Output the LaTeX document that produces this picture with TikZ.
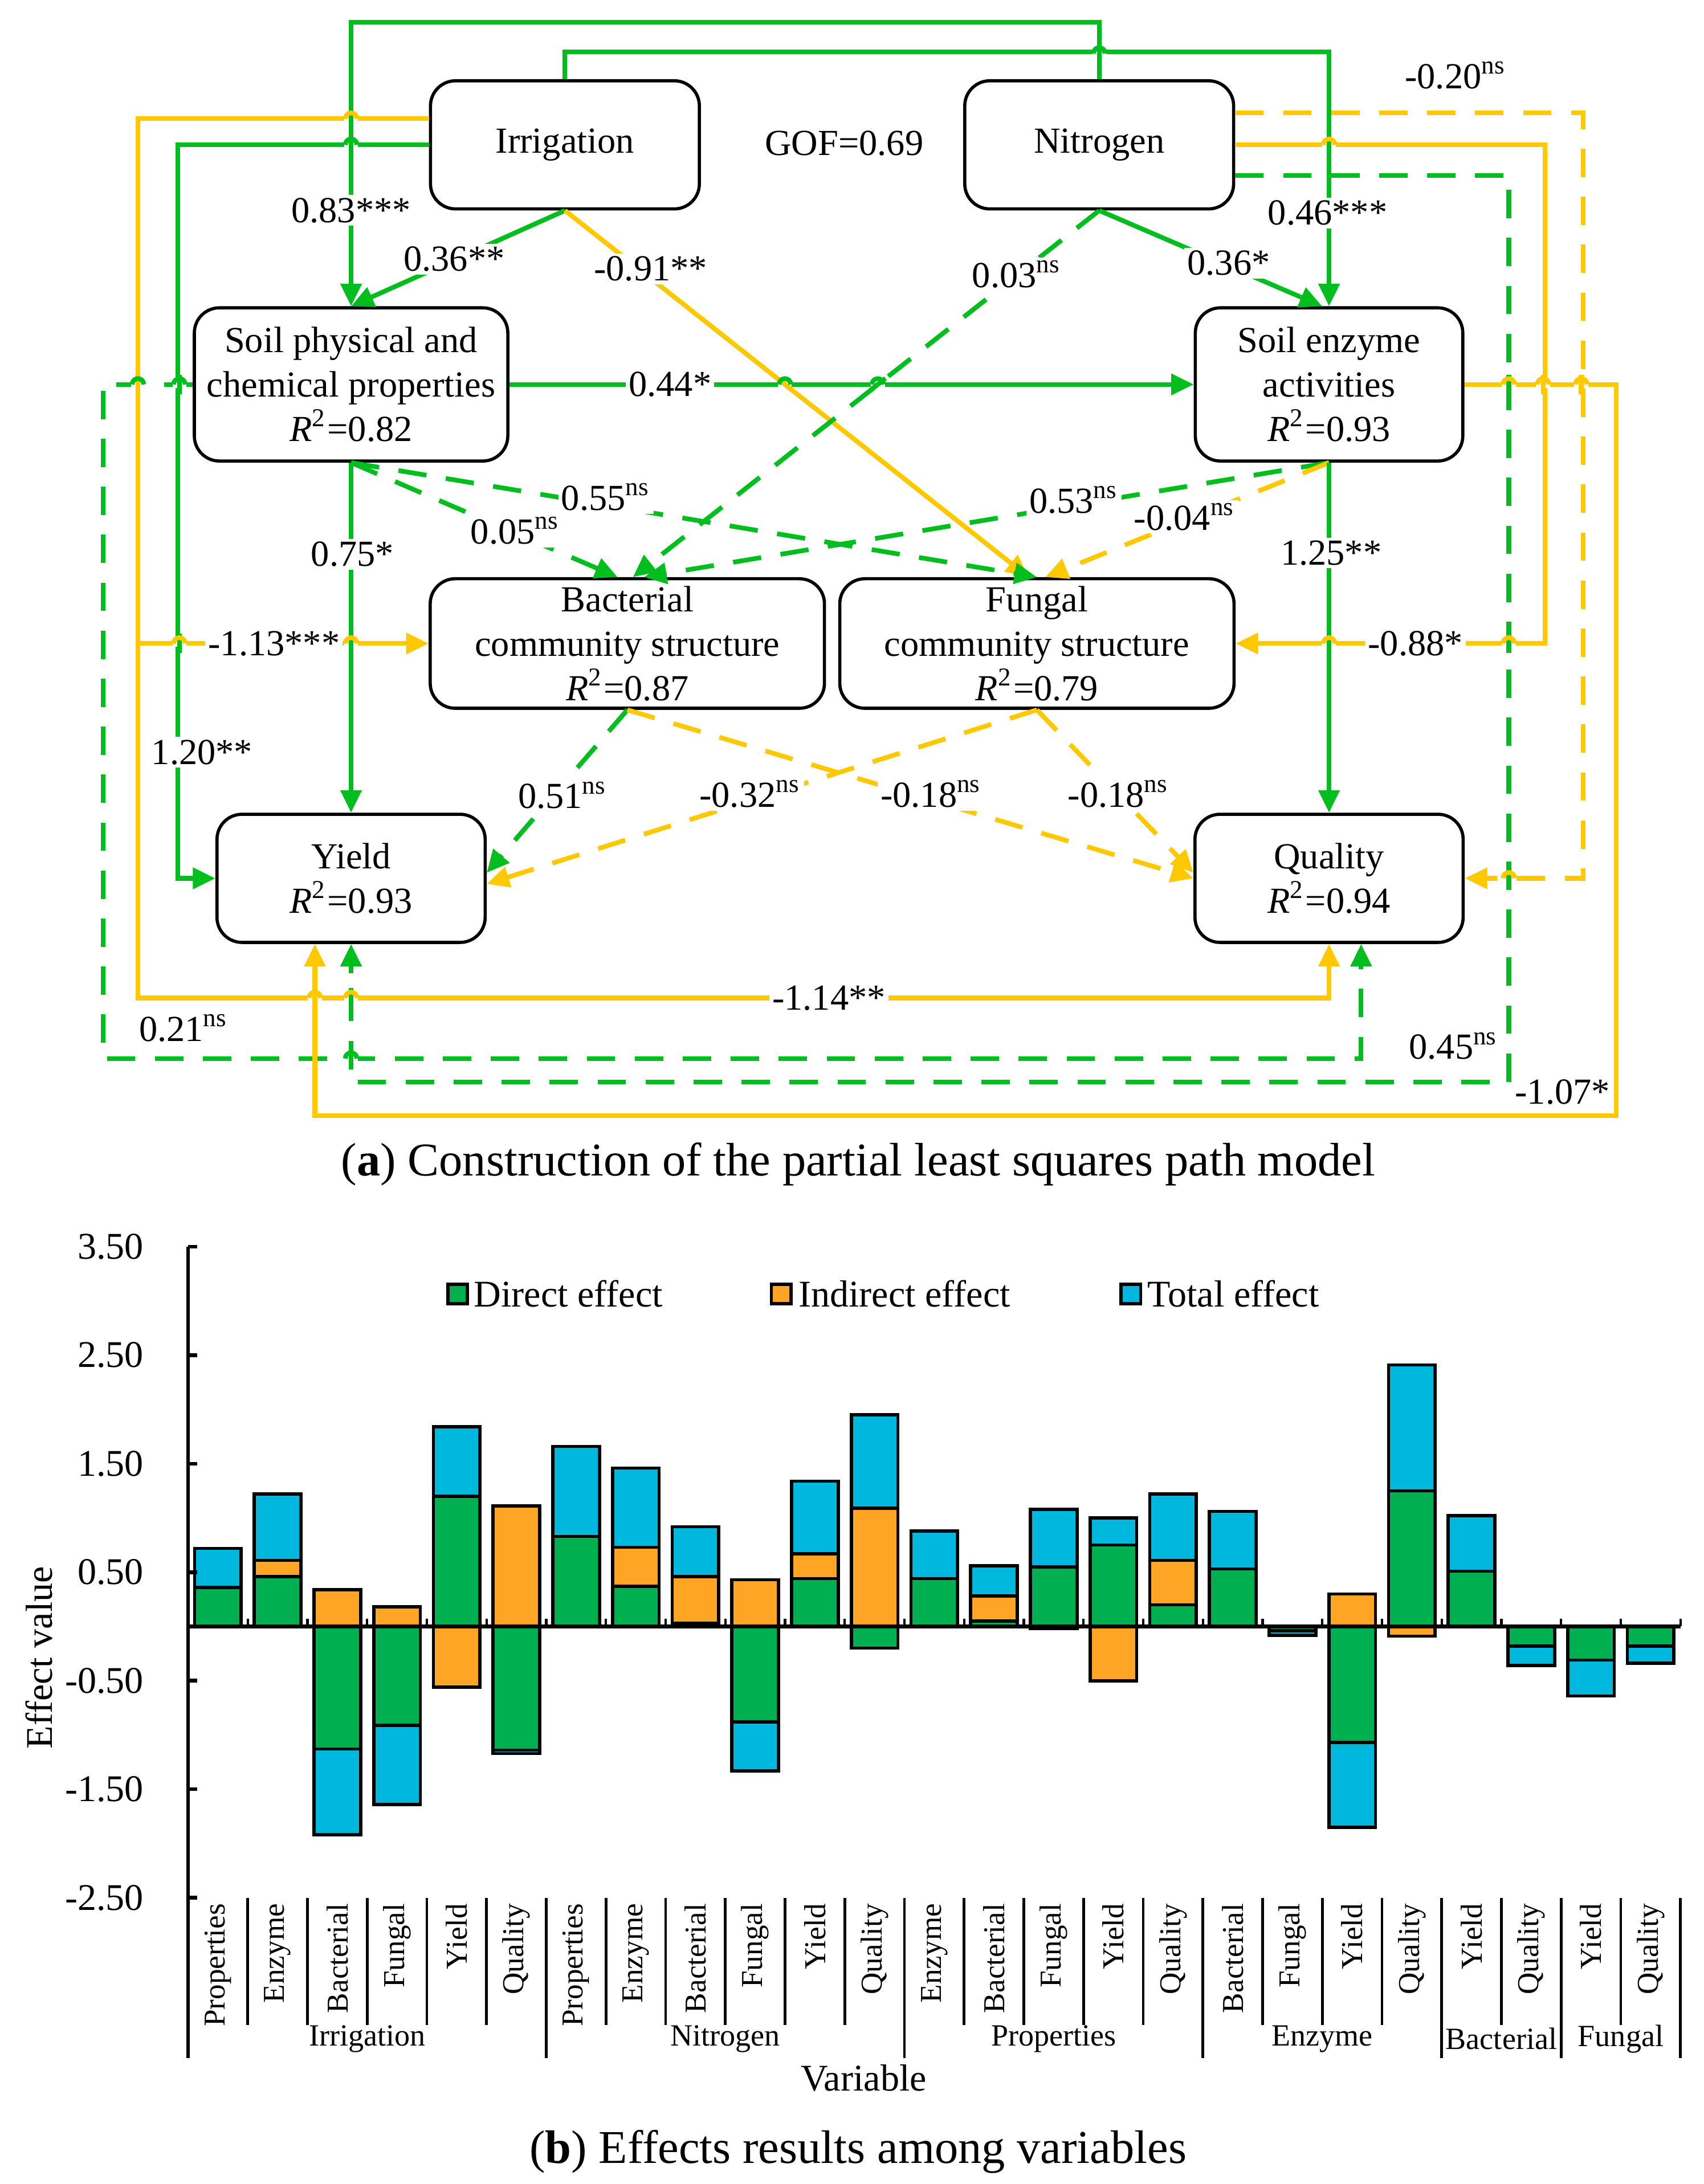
\documentclass[tikz,border=0pt]{standalone}
\usepackage{fontspec}
\setmainfont{Liberation Serif}
\usetikzlibrary{arrows.meta,calc}
\definecolor{lgreen}{RGB}{0,190,30}
\definecolor{lyellow}{RGB}{255,200,0}
\definecolor{dgreen}{RGB}{0,176,80}
\definecolor{iorange}{RGB}{255,165,38}
\definecolor{tblue}{RGB}{0,184,222}
\newcommand{\pfont}{\fontsize{7.5}{9.1}\selectfont}
\newcommand{\cfont}{\fontsize{7.7}{9}\selectfont}
\newcommand{\gfont}{\fontsize{6.3}{7}\selectfont}
\newcommand{\vfont}{\fontsize{6.2}{7}\selectfont}
\newcommand{\capfont}{\fontsize{9.6}{11}\selectfont}
\newcommand{\ns}[1]{#1\textsuperscript{ns}}
\newcommand{\rsq}[1]{\textit{R}\textsuperscript{2}=#1}
% line jump: x, y, colour of the jumping line, colour of the crossed line, angle of the crossed line
\newcommand{\hop}[5]{%
  \fill[white] (#1-0.05,#2-0.024) rectangle (#1+0.05,#2+0.024);
  \draw[#4, line width=0.95pt] (#1,#2) ++(#5:0.07) -- ++(#5+180:0.14);
  \draw[#3, line width=0.95pt] (#1-0.042,#2) arc[start angle=180, end angle=0, radius=0.042];}
% stacked bars: positive parts upwards, negative parts downwards
\newcommand{\barpart}[2]{%
  \ifdim #1pt<0pt
    \pgfmathsetmacro{\newbase}{\negbase+#1}%
    \draw[barbox, fill=#2] (\xbar-0.89,\negbase) rectangle (\xbar-0.11,\newbase);%
    \global\let\negbase\newbase
  \else
    \pgfmathsetmacro{\newbase}{\posbase+#1}%
    \draw[barbox, fill=#2] (\xbar-0.89,\posbase) rectangle (\xbar-0.11,\newbase);%
    \global\let\posbase\newbase
  \fi}
\newcommand{\stackbar}[4]{%
  \gdef\posbase{0}\gdef\negbase{0}\def\xbar{#1}%
  \barpart{#2}{dgreen}\barpart{#3}{iorange}\barpart{#4}{tblue}}
\begin{document}
\begin{tikzpicture}[
    box/.style={draw, line width=0.65pt, rounded corners=0.18cm, align=center, inner sep=0pt, font=\pfont},
    gline/.style={lgreen, line width=0.95pt},
    yline/.style={lyellow, line width=0.95pt},
    gdash/.style={gline, dash pattern=on 5.8pt off 4pt},
    ydash/.style={yline, dash pattern=on 5.8pt off 4pt},
    lab/.style={fill=white, inner sep=0.6pt, font=\pfont},
    lab0/.style={inner sep=0.6pt, font=\pfont},
    barbox/.style={draw=black, line width=0.65pt},
    >={Triangle[length=4.6pt, width=4.2pt]}]
  \useasboundingbox (0,0) rectangle (12.23,-15.68);

  \node[box, minimum width=1.93cm, minimum height=0.92cm] (irr) at (4.055,-1.04) {Irrigation};
  \node[box, minimum width=1.93cm, minimum height=0.92cm] (nit) at (7.89,-1.04) {Nitrogen};
  \node[font=\pfont] (gof) at (6.06,-1.03) {GOF=0.69};
  \node[box, minimum width=2.25cm, minimum height=1.10cm] (phys) at (2.52,-2.76) {Soil physical and\\chemical properties\\\rsq{0.82}};
  \node[box, minimum width=1.92cm, minimum height=1.10cm] (enz) at (9.54,-2.76) {Soil enzyme\\activities\\\rsq{0.93}};
  \node[box, minimum width=2.83cm, minimum height=0.93cm] (bac) at (4.503,-4.62) {Bacterial\\community structure\\\rsq{0.87}};
  \node[box, minimum width=2.83cm, minimum height=0.93cm] (fun) at (7.443,-4.62) {Fungal\\community structure\\\rsq{0.79}};
  \node[box, minimum width=1.925cm, minimum height=0.92cm] (yld) at (2.52,-6.306) {Yield\\\rsq{0.93}};
  \node[box, minimum width=1.925cm, minimum height=0.92cm] (qual) at (9.54,-6.306) {Quality\\\rsq{0.94}};

  \coordinate (railI) at (0.99,-7.165);
  \coordinate (railP) at (0.74,-7.60);
  \coordinate (railN) at (10.83,-7.77);
  \coordinate (railE) at (11.60,-8.01);

  \draw[gline,->] (nit.north) -- ++(0,0.41) -| (phys.north);
  \draw[gline,->] (irr.north) -- ++(0,0.195) -| (enz.north);
  \draw[yline,->] ([yshift=1.9mm]irr.west) -| (railI) -| (qual.south);
  \draw[yline,->] (railI |- bac.west) -- (bac.west);
  \draw[gline,->] (irr.west) -| ([xshift=-2.7mm]yld.west) -- (yld.west);
  \draw[ydash,->] ([yshift=2.3mm]nit.east) -| ([xshift=8.5mm]qual.east) -- (qual.east);
  \draw[yline,->] (nit.east) -| ([xshift=22.2mm]fun.east) -- (fun.east);
  \draw[gdash,->] ([yshift=-2.2mm]nit.east) -| (railN) -| (yld.south);
  \draw[gdash,->] (phys.west) -| (railP) -| ([xshift=2.3mm]qual.south);
  \draw[yline,->] (enz.east) -| (railE) -| ([xshift=-2.6mm]yld.south);

  \draw[gline,->] (irr.south) -- (phys.north);
  \draw[yline,->] (irr.south) -- ([xshift=-0.6mm]fun.north);
  \draw[gline,->] (nit.south) -- ([xshift=-0.5mm]enz.north);
  \draw[gdash,->] (nit.south) -- ([xshift=0.4mm]bac.north);
  \draw[gline,->] (phys.east) -- (enz.west);
  \draw[gline,->] (phys.south) -- (yld.north);
  \draw[gdash,->] (phys.south) -- ([xshift=-0.7mm]bac.north);
  \draw[gdash,->] (phys.south) -- (fun.north);
  \draw[gdash,->] (enz.south) -- ([xshift=1.2mm]bac.north);
  \draw[ydash,->] (enz.south) -- ([xshift=0.6mm]fun.north);
  \draw[gline,->] (enz.south) -- (qual.north);
  \draw[gdash,->] (bac.south) -- ([yshift=0.4mm]yld.east);
  \draw[ydash,->] (fun.south) -- ([yshift=-0.4mm]yld.east);
  \draw[ydash,->] (bac.south) -- (qual.west);
  \draw[ydash,->] (fun.south) -- ([yshift=0.4mm]qual.west);

  \hop{7.89}{-0.384}{lgreen}{lgreen}{90}
  \hop{2.52}{-0.853}{lyellow}{lgreen}{90}
  \hop{2.52}{-1.04}{lgreen}{lgreen}{90}
  \hop{9.54}{-1.04}{lyellow}{lgreen}{90}
  \hop{0.99}{-2.76}{lgreen}{lyellow}{90}
  \hop{1.2875}{-2.76}{lgreen}{lgreen}{90}
  \hop{5.634}{-2.76}{lgreen}{lyellow}{-38.55}
  \hop{6.301}{-2.76}{lgreen}{lgreen}{38.4}
  \hop{10.83}{-2.76}{lyellow}{lgreen}{90}
  \hop{11.076}{-2.76}{lyellow}{lyellow}{90}
  \hop{11.35}{-2.76}{lyellow}{lyellow}{90}
  \hop{1.2875}{-4.62}{lyellow}{lgreen}{90}
  \hop{2.52}{-4.62}{lyellow}{lgreen}{90}
  \hop{9.54}{-4.62}{lyellow}{lgreen}{90}
  \hop{10.83}{-4.62}{lyellow}{lgreen}{90}
  \hop{10.83}{-6.306}{lyellow}{lgreen}{90}
  \hop{2.26}{-7.165}{lyellow}{lyellow}{90}
  \hop{2.52}{-7.165}{lyellow}{lgreen}{90}
  \hop{2.52}{-7.60}{lgreen}{lgreen}{90}

  \node[lab] at (2.52,-1.51) {0.83***};
  \node[lab] at (3.26,-1.86) {0.36**};
  \node[lab] at (4.67,-1.93) {-0.91**};
  \node[lab] at (7.30,-1.97) {\ns{0.03}};
  \node[lab] at (8.82,-1.89) {0.36*};
  \node[lab] at (9.53,-1.53) {0.46***};
  \node[lab0] at (10.45,-0.54) {\ns{-0.20}};
  \node[lab] at (4.81,-2.76) {0.44*};
  \node[lab] at (4.35,-3.57) {\ns{0.55}};
  \node[lab] at (3.70,-3.81) {\ns{0.05}};
  \node[lab] at (2.53,-3.98) {0.75*};
  \node[lab] at (7.71,-3.59) {\ns{0.53}};
  \node[lab] at (8.505,-3.71) {\ns{-0.04}};
  \node[lab] at (9.555,-3.97) {1.25**};
  \node[lab] at (1.967,-4.62) {-1.13***};
  \node[lab] at (10.16,-4.62) {-0.88*};
  \node[lab] at (1.45,-5.40) {1.20**};
  \node[lab] at (4.04,-5.71) {\ns{0.51}};
  \node[lab] at (5.386,-5.70) {\ns{-0.32}};
  \node[lab] at (6.686,-5.70) {\ns{-0.18}};
  \node[lab] at (8.03,-5.70) {\ns{-0.18}};
  \node[lab] at (5.95,-7.165) {-1.14**};
  \node[lab0] at (1.32,-7.38) {\ns{0.21}};
  \node[lab0] at (10.436,-7.51) {\ns{0.45}};
  \node[lab0] at (11.215,-7.84) {-1.07*};

  \node[font=\capfont] (capa) at (6.16,-8.36) {(\textbf{a}) Construction of the partial least squares path model};

  \begin{scope}[shift={(1.35,-11.677)}, x=0.4285cm, y=0.779cm]
    \foreach \k/\dv/\iv/\tv in {1/0.36/0/0.36, 2/0.46/0.15/0.61, 3/-1.13/0.34/-0.79, 4/-0.91/0.18/-0.73,
        5/1.20/-0.56/0.64, 6/-1.14/1.11/-0.03, 7/0.83/0/0.83, 8/0.37/0.36/0.73, 9/0.03/0.43/0.46,
        10/-0.88/0.43/-0.45, 11/0.44/0.23/0.67, 12/-0.20/1.09/0.86, 13/0.44/0/0.44, 14/0.05/0.23/0.28,
        15/0.55/-0.02/0.53, 16/0.75/-0.50/0.25, 17/0.20/0.41/0.61, 18/0.53/0/0.53, 19/-0.04/0/-0.04,
        20/-1.07/0.30/-0.78, 21/1.25/-0.09/1.16, 22/0.51/0/0.51, 23/-0.18/0/-0.18, 24/-0.31/0/-0.33,
        25/-0.18/0/-0.16}
      {\stackbar{\k}{\dv}{\iv}{\tv}}
    \draw[line width=0.75pt] (0,3.5) -- (0,-3.98);
    \draw[line width=0.75pt] (0,0) -- (25,0);
    \foreach \k in {1,...,25}
      \draw[line width=0.5pt] (\k,0) -- (\k,0.07);
    \foreach \v/\t in {3.5/3.50, 2.5/2.50, 1.5/1.50, 0.5/0.50, -0.5/-0.50, -1.5/-1.50, -2.5/-2.50} {
      \draw[line width=0.75pt] (0,\v) -- (0.15,\v);
      \node[anchor=east, inner sep=0pt, font=\cfont] at (-0.73,\v) {\t};
    }
    \foreach \k in {1,2,3,4,5,7,8,9,10,11,13,14,15,16,18,19,20,22,24}
      \draw[line width=0.55pt] (\k,-2.5) -- (\k,-3.675);
    \foreach \k in {6,12,17,21,23,25}
      \draw[line width=0.55pt] (\k,-2.5) -- (\k,-3.98);
    \foreach \k/\name in {1/Properties, 2/Enzyme, 3/Bacterial, 4/Fungal, 5/Yield, 6/Quality,
        7/Properties, 8/Enzyme, 9/Bacterial, 10/Fungal, 11/Yield, 12/Quality,
        13/Enzyme, 14/Bacterial, 15/Fungal, 16/Yield, 17/Quality,
        18/Bacterial, 19/Fungal, 20/Yield, 21/Quality, 22/Yield, 23/Quality, 24/Yield, 25/Quality}
      \node[rotate=90, anchor=east, inner sep=1pt, font=\vfont] at (\k-0.5,-2.5) {\name};
    \foreach \x/\name in {3/Irrigation, 9/Nitrogen, 14.5/Properties, 19/Enzyme, 22/Bacterial, 24/Fungal}
      \node[font=\gfont, inner sep=0pt] at (\x,-3.80) {\name};
  \end{scope}

  \node[font=\cfont] (xlab) at (6.20,-14.92) {Variable};
  \node[font=\cfont, rotate=90] (ylab) at (0.28,-11.90) {Effect value};
  \draw[barbox, fill=dgreen] (3.215,-9.22) rectangle (3.355,-9.36);
  \node[font=\cfont, anchor=west, inner sep=0pt] (legd) at (3.395,-9.29) {Direct effect};
  \draw[barbox, fill=iorange] (5.537,-9.22) rectangle (5.677,-9.36);
  \node[font=\cfont, anchor=west, inner sep=0pt] (legi) at (5.725,-9.29) {Indirect effect};
  \draw[barbox, fill=tblue] (8.047,-9.22) rectangle (8.187,-9.36);
  \node[font=\cfont, anchor=west, inner sep=0pt] (legt) at (8.23,-9.29) {Total effect};

  \node[font=\capfont] (capb) at (6.16,-15.45) {(\textbf{b}) Effects results among variables};
\end{tikzpicture}
\end{document}
